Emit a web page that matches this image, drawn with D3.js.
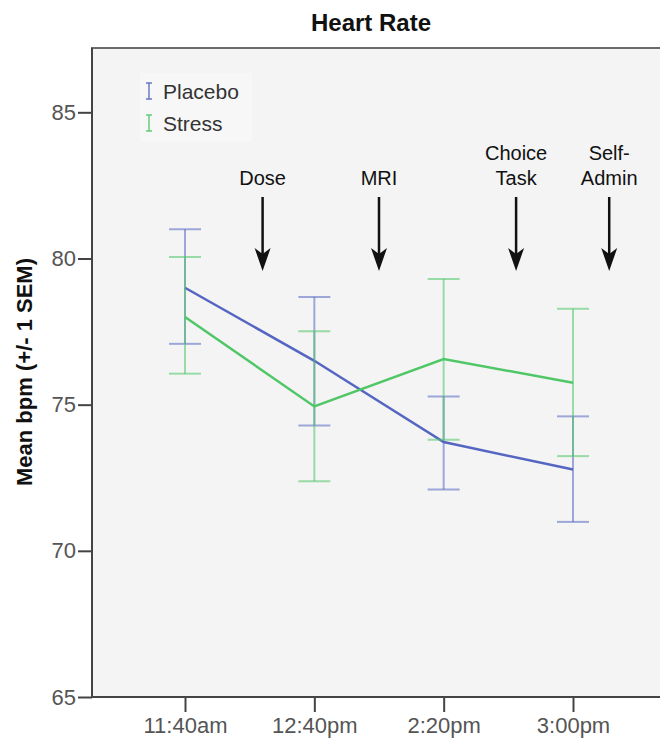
<!DOCTYPE html>
<html>
<head>
<meta charset="utf-8">
<script src="https://cdn.jsdelivr.net/npm/d3@7"></script>
<style>
  body { margin: 0; background: #fff; }
  svg { display: block; font-family: "Liberation Sans", Arial, sans-serif; }
</style>
</head>
<body>
<svg class="target" width="660" height="740"></svg>
<script>
// values
const times = ["11:40am", "12:40pm", "2:20pm", "3:00pm"];
const placeboMean = [79.0, 76.5, 73.72, 72.78];
const placeboLow = [77.08, 74.29, 72.1, 70.99];
const placeboHigh = [81.0, 78.68, 75.28, 74.6];
const stressMean = [78.0, 74.94, 76.56, 75.75];
const stressLow = [76.06, 72.38, 73.8, 73.24];
const stressHigh = [80.05, 77.51, 79.3, 78.28];
const yTicks = [65, 70, 75, 80, 85];

// event annotations, positioned on the time index axis
const events = [
  { lines: ["Dose"], pos: 0.6 },
  { lines: ["MRI"], pos: 1.5 },
  { lines: ["Choice", "Task"], pos: 2.56 },
  { lines: ["Self-", "Admin"], pos: 3.28 },
];

const series = [
  { name: "Placebo", mean: placeboMean, low: placeboLow, high: placeboHigh, line: "#5566c2", bar: "#5566c2" },
  { name: "Stress", mean: stressMean, low: stressLow, high: stressHigh, line: "#4fc767", bar: "#4fc767" },
];

const plotLeft = 92, plotTop = 48, plotBottom = 697, plotRight = 700;
const svg = d3.select(".target");

const xScale = d3.scaleLinear().domain([0, times.length - 1]).range([185, 573]);
const yScale = d3.scaleLinear().domain([65, 87.2]).range([plotBottom, plotTop]);

// plot background and frame
svg.append("rect")
  .attr("x", plotLeft).attr("y", plotTop)
  .attr("width", plotRight - plotLeft).attr("height", plotBottom - plotTop)
  .attr("fill", "#f4f4f4")
  .attr("stroke", "#6a6a6a")
  .attr("stroke-width", 2);

svg.append("text")
  .attr("x", 371).attr("y", 31)
  .attr("text-anchor", "middle")
  .attr("font-size", 24).attr("font-weight", "bold")
  .attr("fill", "#111")
  .text("Heart Rate");

// axes
const yAxis = svg.append("g")
  .attr("transform", `translate(${plotLeft},0)`)
  .call(d3.axisLeft(yScale).tickValues(yTicks).tickSize(14).tickPadding(2));
const xAxis = svg.append("g")
  .attr("transform", `translate(0,${plotBottom})`)
  .call(d3.axisBottom(xScale).tickValues(d3.range(times.length))
    .tickFormat((i) => times[i]).tickSize(15).tickPadding(5));

[yAxis, xAxis].forEach((g) => {
  g.select(".domain").remove();
  g.selectAll(".tick line").attr("stroke", "#444").attr("stroke-width", 2);
  g.selectAll(".tick text")
    .attr("fill", "#555")
    .attr("font-size", 22)
    .attr("font-family", "Liberation Sans, Arial, sans-serif");
});
svg.append("line").attr("x1", plotLeft).attr("x2", plotLeft).attr("y1", plotTop).attr("y2", plotBottom)
  .attr("stroke", "#444").attr("stroke-width", 2);
svg.append("line").attr("x1", plotLeft).attr("x2", plotRight).attr("y1", plotBottom).attr("y2", plotBottom)
  .attr("stroke", "#444").attr("stroke-width", 2);

svg.append("text")
  .attr("transform", `translate(32,372) rotate(-90)`)
  .attr("text-anchor", "middle")
  .attr("font-size", 22).attr("font-weight", "bold")
  .attr("fill", "#111")
  .text("Mean bpm (+/- 1 SEM)");

// error bars and lines
const cap = 16;
series.forEach((s) => {
  const g = svg.append("g");
  const bars = g.selectAll(".eb")
    .data(times.map((t, i) => i))
    .enter().append("g")
    .attr("stroke", s.bar)
    .attr("stroke-opacity", 0.55)
    .attr("stroke-width", 2);
  bars.append("line")
    .attr("x1", (i) => xScale(i)).attr("x2", (i) => xScale(i))
    .attr("y1", (i) => yScale(s.low[i])).attr("y2", (i) => yScale(s.high[i]));
  bars.append("line")
    .attr("x1", (i) => xScale(i) - cap).attr("x2", (i) => xScale(i) + cap)
    .attr("y1", (i) => yScale(s.low[i])).attr("y2", (i) => yScale(s.low[i]));
  bars.append("line")
    .attr("x1", (i) => xScale(i) - cap).attr("x2", (i) => xScale(i) + cap)
    .attr("y1", (i) => yScale(s.high[i])).attr("y2", (i) => yScale(s.high[i]));

  g.append("path")
    .datum(s.mean)
    .attr("fill", "none")
    .attr("stroke", s.line)
    .attr("stroke-width", 2.5)
    .attr("d", d3.line().x((d, i) => xScale(i)).y((d) => yScale(d)));
});

// legend
const legend = svg.append("g").attr("transform", "translate(140,73)");
legend.append("rect").attr("width", 112).attr("height", 69).attr("fill", "#f7f7f7");
series.forEach((s, k) => {
  const cy = 18 + k * 32;
  const sym = legend.append("g").attr("stroke", s.bar).attr("stroke-width", 1.6).attr("stroke-opacity", 0.8);
  sym.append("line").attr("x1", 9).attr("x2", 9).attr("y1", cy - 8).attr("y2", cy + 8);
  sym.append("line").attr("x1", 6).attr("x2", 12).attr("y1", cy - 8).attr("y2", cy - 8);
  sym.append("line").attr("x1", 6).attr("x2", 12).attr("y1", cy + 8).attr("y2", cy + 8);
  legend.append("text")
    .attr("x", 23).attr("y", cy + 8)
    .attr("font-size", 21).attr("fill", "#333")
    .text(s.name);
});

// event arrows
const ev = svg.selectAll(".event").data(events).enter().append("g")
  .attr("transform", (d) => `translate(${xScale(d.pos)},0)`);
ev.each(function (d) {
  const g = d3.select(this);
  d.lines.forEach((t, j) => {
    g.append("text")
      .attr("y", 185 - (d.lines.length - 1 - j) * 25)
      .attr("text-anchor", "middle")
      .attr("font-size", 20).attr("fill", "#111")
      .text(t);
  });
});
ev.append("line").attr("x1", 0).attr("x2", 0).attr("y1", 197).attr("y2", 260)
  .attr("stroke", "#111").attr("stroke-width", 2.5);
ev.append("path")
  .attr("d", "M0,271 L-8,248 L0,254 L8,248 Z")
  .attr("fill", "#111");
</script>
</body>
</html>
